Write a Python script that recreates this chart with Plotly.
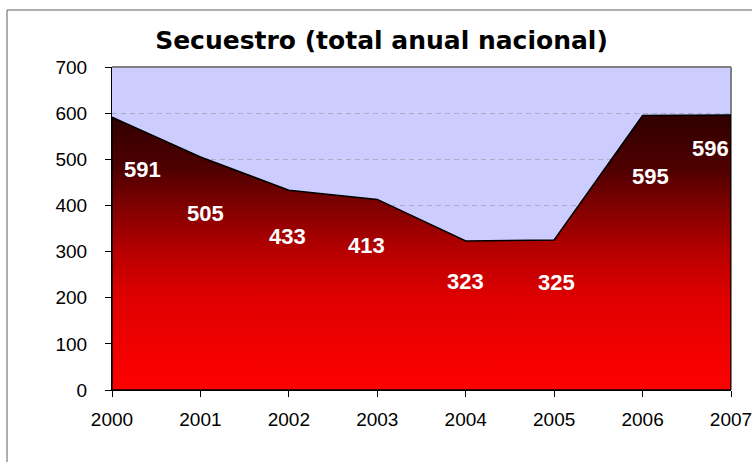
import plotly.graph_objects as go

years = [2000, 2001, 2002, 2003, 2004, 2005, 2006, 2007]
secuestros = [591, 505, 433, 413, 323, 325, 595, 596]
year_labels = [str(y) for y in years]
y_ticks = [0, 100, 200, 300, 400, 500, 600, 700]

# label offsets (pixels) relative to each data point
label_dx = [30, 5, -1, -11, 0, 2, 8, -21]
label_dy = [-52, -57, -46, -46, -41, -42, -61, -34]

# closed polygon for the area (outline + gradient fill)
poly_x = years + [years[-1], years[0], years[0]]
poly_y = secuestros + [0, 0, secuestros[0]]

fig = go.Figure()
fig.add_trace(go.Scatter(
    x=poly_x, y=poly_y, mode="lines", fill="toself",
    line=dict(color="black", width=1.5),
    fillgradient=dict(
        type="vertical", start=0, stop=max(secuestros),
        colorscale=[[0, "#FF0000"], [0.33, "#E00000"], [0.5, "#B80000"],
                    [0.69, "#780000"], [0.8, "#500000"], [1, "#300000"]],
    ),
    hoverinfo="skip", showlegend=False,
))

for x, v, dx, dy in zip(years, secuestros, label_dx, label_dy):
    fig.add_annotation(x=x, y=v, text=str(v), showarrow=False,
                       xshift=dx, yshift=dy,
                       font=dict(family="Liberation Sans, Arial", size=22,
                                 color="white", weight="bold"))

# gray top/right border of plot area
fig.add_shape(type="line", xref="paper", yref="paper", x0=0, y0=1, x1=1, y1=1,
              line=dict(color="#808080", width=2), layer="below")
fig.add_shape(type="line", xref="paper", yref="paper", x0=1, y0=0, x1=1, y1=1,
              line=dict(color="#808080", width=2), layer="below")
# outer chart border (extends past canvas at right/bottom)
fig.add_shape(type="rect", xref="paper", yref="paper",
              x0=-0.1696, y0=-0.4, x1=1.2, y1=1.1765,
              line=dict(color="#606060", width=1), layer="above")

fig.update_layout(
    width=752, height=462,
    margin=dict(l=112, r=21, t=67, b=72, autoexpand=False),
    paper_bgcolor="white", plot_bgcolor="#CCCCFF",
    title=dict(text="Secuestro (total anual nacional)", x=381.5 / 752, xanchor="center",
               y=1 - 40 / 462, yanchor="middle",
               font=dict(family="DejaVu Sans", size=25, color="black", weight="bold")),
    font=dict(family="Liberation Sans, Arial", size=19, color="black"),
)
fig.update_xaxes(range=[years[0], years[-1]], tickmode="array", tickvals=years,
                 ticktext=year_labels, showgrid=False, zeroline=False,
                 showline=True, linecolor="black", linewidth=1,
                 ticks="outside", ticklen=6, tickcolor="black",
                 ticklabelstandoff=6, ticklabeloverflow="allow", automargin=False)
fig.update_yaxes(range=[0, 700], tickmode="array", tickvals=y_ticks,
                 showgrid=True, gridcolor="#ABABC8", griddash="5px,4px",
                 zeroline=False, showline=True, linecolor="black", linewidth=1,
                 ticks="outside", ticklen=6, tickcolor="black",
                 ticklabelstandoff=14, automargin=False)

fig.write_html("out.html", config={"displayModeBar": False},
               post_script="document.body.style.margin='0';document.body.style.overflow='hidden';")
